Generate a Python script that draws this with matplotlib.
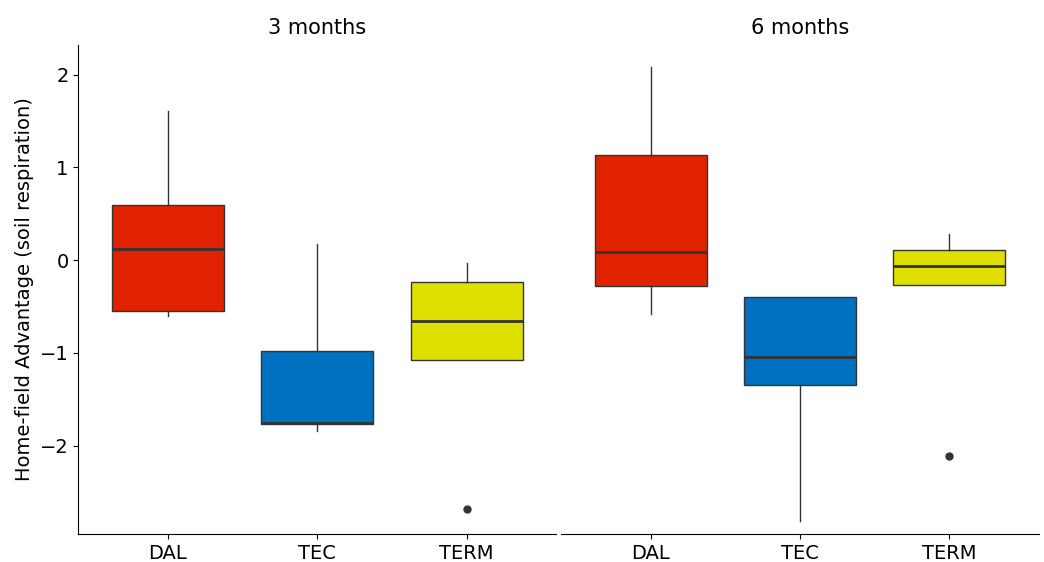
import matplotlib.pyplot as plt

panels = ['3 months', '6 months']
groups = ['DAL', 'TEC', 'TERM']
colors = ['#E02200', '#0070C0', '#E0E000']

# whislo, q1, med, q3, whishi, outliers
stats_3m = [
    (-0.60, -0.55, 0.12, 0.59, 1.61, []),
    (-1.84, -1.77, -1.76, -0.98, 0.17, []),
    (-1.08, -1.08, -0.66, -0.23, -0.03, [-2.68]),
]
stats_6m = [
    (-0.58, -0.28, 0.09, 1.13, 2.08, []),
    (-2.81, -1.34, -1.04, -0.40, -0.40, []),
    (-0.27, -0.27, -0.06, 0.11, 0.28, [-2.11]),
]

fig, axes = plt.subplots(1, 2, figsize=(10.44, 5.62), dpi=100, sharey=True)
fig.subplots_adjust(left=0.075, right=0.995, top=0.92, bottom=0.05, wspace=0.01)

for ax, title, stats in zip(axes, panels, [stats_3m, stats_6m]):
    bx = []
    for g, s in zip(groups, stats):
        bx.append(dict(label=g, whislo=s[0], q1=s[1], med=s[2], q3=s[3], whishi=s[4], fliers=s[5]))
    b = ax.bxp(bx, positions=[1, 2, 3], widths=0.75, patch_artist=True, showcaps=False,
               medianprops=dict(color='#333333', linewidth=2),
               whiskerprops=dict(color='#333333', linewidth=1),
               boxprops=dict(edgecolor='#333333', linewidth=1),
               flierprops=dict(marker='o', markerfacecolor='#333333', markeredgecolor='#333333', markersize=5))
    for patch, c in zip(b['boxes'], colors):
        patch.set_facecolor(c)
    ax.set_title(title, fontsize=15, pad=8)
    ax.set_xlim(0.4, 3.6)
    for sp in ['top', 'right']:
        ax.spines[sp].set_visible(False)
    ax.tick_params(labelsize=14)

axes[0].set_ylim(-2.95, 2.32)
axes[0].set_yticks([-2, -1, 0, 1, 2])
axes[0].set_ylabel('Home-field Advantage (soil respiration)', fontsize=14)
axes[1].spines['left'].set_visible(False)
axes[1].tick_params(axis='y', left=False)

fig.savefig('out.png')
